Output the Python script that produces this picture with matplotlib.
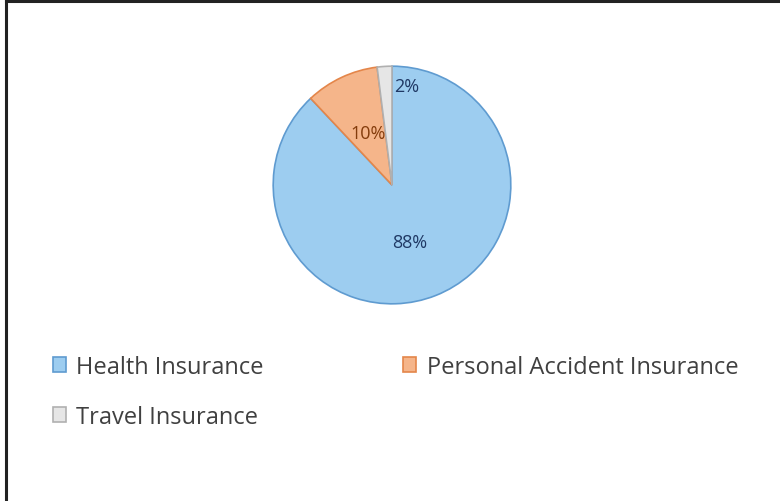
import matplotlib
matplotlib.use('Agg')
import matplotlib.pyplot as plt
from matplotlib.patches import Patch
from matplotlib.lines import Line2D

labels = ["Health Insurance", "Personal Accident Insurance", "Travel Insurance"]
shares = [88, 10, 2]

fills = ["#9dcdf0", "#f5b58a", "#e6e6e6"]
edges = ["#5f9bd0", "#e4864a", "#b0b0b0"]
txt_colors = ["#1f3864", "#843c0c", "#1f3864"]

plt.rcParams['font.family'] = ['Open Sans', 'DejaVu Sans']

fig = plt.figure(figsize=(7.8, 5.02), dpi=100)
fig.patch.set_facecolor('white')

# pie centred at about (392, 185) px, radius ~120 px
ax = fig.add_axes([272 / 780, 196 / 502, 240 / 780, 240 / 502])
wedges, texts, autotexts = ax.pie(
    shares, colors=fills, startangle=90, counterclock=False,
    autopct='%d%%', pctdistance=0.5, radius=1.0,
    wedgeprops=dict(linewidth=1.2),
    textprops=dict(fontsize=13),
)
for w, ec in zip(wedges, edges):
    w.set_edgecolor(ec)
for t, c in zip(autotexts, txt_colors):
    t.set_color(c)
# label spots as in the original (small slice label sits right of the top)
autotexts[0].set_position((0.15, -0.48))
autotexts[1].set_position((-0.2, 0.44))
autotexts[2].set_position((0.12, 0.83))
ax.set_xlim(-1.01, 1.01)
ax.set_ylim(-1.01, 1.01)
ax.set_aspect('equal')

# legend is filled column by column -> reorder so rows read left to right
order = [0, 2, 1]
handles = [Patch(facecolor=fills[i], edgecolor=edges[i], linewidth=1.2) for i in order]
fig.legend(handles, [labels[i] for i in order], ncol=2, loc='upper left',
           bbox_to_anchor=(41 / 780, 1 - 344 / 502), frameon=False, borderpad=0,
           fontsize=17, handlelength=0.55, handleheight=0.55, handletextpad=0.45,
           columnspacing=5.9, labelspacing=1.1, labelcolor='#404040')

# dark frame on the left and top edges
fig.add_artist(Line2D([6 / 780, 6 / 780], [0, 1 - 2 / 502], color='#222222',
                      linewidth=2.2, transform=fig.transFigure))
fig.add_artist(Line2D([6 / 780, 1], [1 - 2 / 502, 1 - 2 / 502], color='#222222',
                      linewidth=2.2, transform=fig.transFigure))

fig.savefig('out.png', dpi=100)
plt.close(fig)
